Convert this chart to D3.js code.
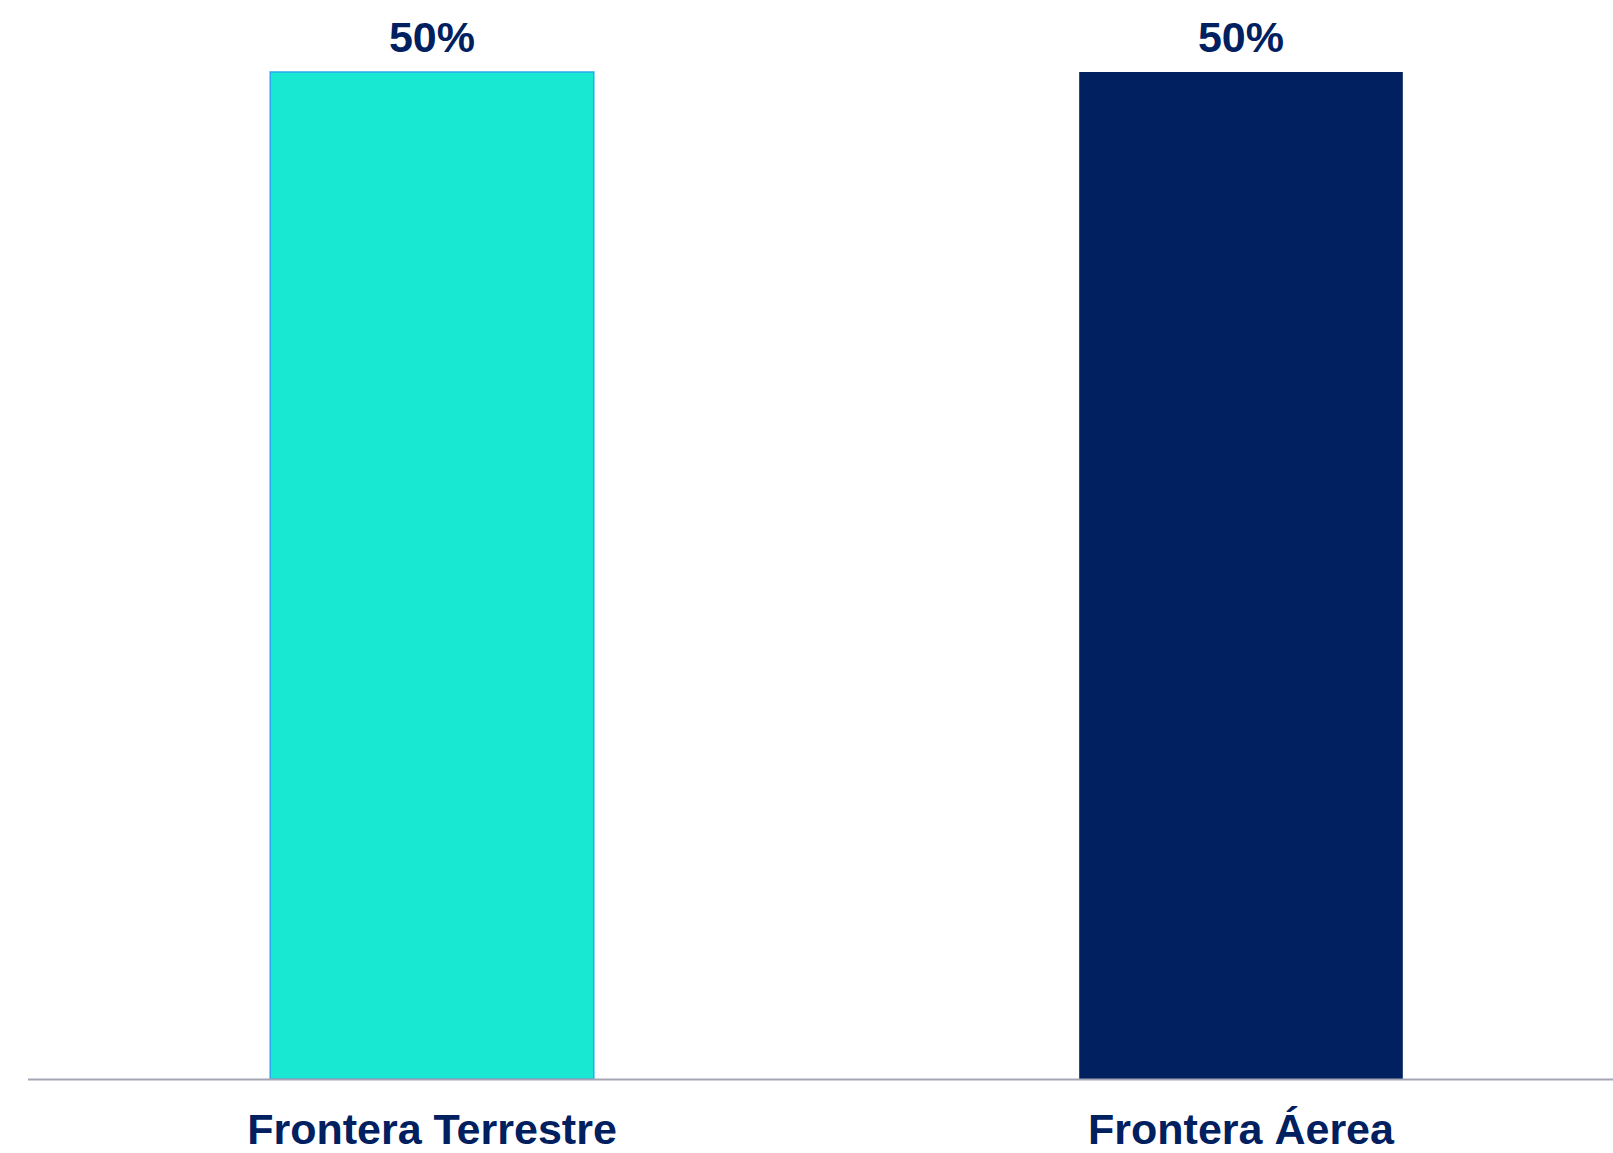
<!DOCTYPE html>
<html>

<head>
    <meta charset="UTF-8">
    <style>
        body { margin: 0; background: #fff; }
        svg { display: block; }
        text { font-family: "Liberation Sans", Arial, sans-serif; font-weight: bold; fill: #002060; }
    </style>
</head>

<body>
    <svg></svg>
    <script src="https://d3js.org/d3.v7.min.js"></script>

    <script>

        let width = 1613, height = 1153;

        // data
        const categories = ["Frontera Terrestre", "Frontera Áerea"];
        const values = [0.5, 0.5];
        const barColors = ["#18E8D2", "#002060"];
        const barStrokes = ["#2AA8F0", "none"];

        let svg = d3.select("svg")
            .attr("width", width)
            .attr("height", height)
            .attr("viewBox", "0 0 " + width + " " + height)

        let x = d3.scaleBand()
            .domain(categories)
            .range([27.5, 1645.5])
            .paddingInner(0.6)
            .paddingOuter(0.3);

        let y = d3.scaleLinear()
            .domain([0, 0.5])
            .range([1079, 72]);

        let data = categories.map((c, i) => ({ cat: c, value: values[i], i: i }));

        // bars
        svg.append("g")
            .selectAll("rect")
            .data(data)
            .enter()
            .append("rect")
            .attr("x", d => x(d.cat))
            .attr("y", d => y(d.value))
            .attr("width", x.bandwidth())
            .attr("height", d => y(0) - y(d.value))
            .attr("fill", d => barColors[d.i])
            .attr("stroke", d => barStrokes[d.i])
            .attr("stroke-width", 1.5);

        // baseline
        svg.append("line")
            .attr("x1", 28)
            .attr("x2", width)
            .attr("y1", y(0) + 0.5)
            .attr("y2", y(0) + 0.5)
            .attr("stroke", "#A4A6B6")
            .attr("stroke-width", 2);

        // value labels
        svg.append("g")
            .selectAll("text")
            .data(data)
            .enter()
            .append("text")
            .attr("x", d => x(d.cat) + x.bandwidth() / 2)
            .attr("y", d => y(d.value) - 20)
            .attr("text-anchor", "middle")
            .style("font-size", "43px")
            .text(d => d3.format(".0%")(d.value));

        // category labels
        svg.append("g")
            .selectAll("text")
            .data(data)
            .enter()
            .append("text")
            .attr("x", d => x(d.cat) + x.bandwidth() / 2)
            .attr("y", 1144)
            .attr("text-anchor", "middle")
            .style("font-size", "43px")
            .text(d => d.cat);

    </script>
</body>

</html>
